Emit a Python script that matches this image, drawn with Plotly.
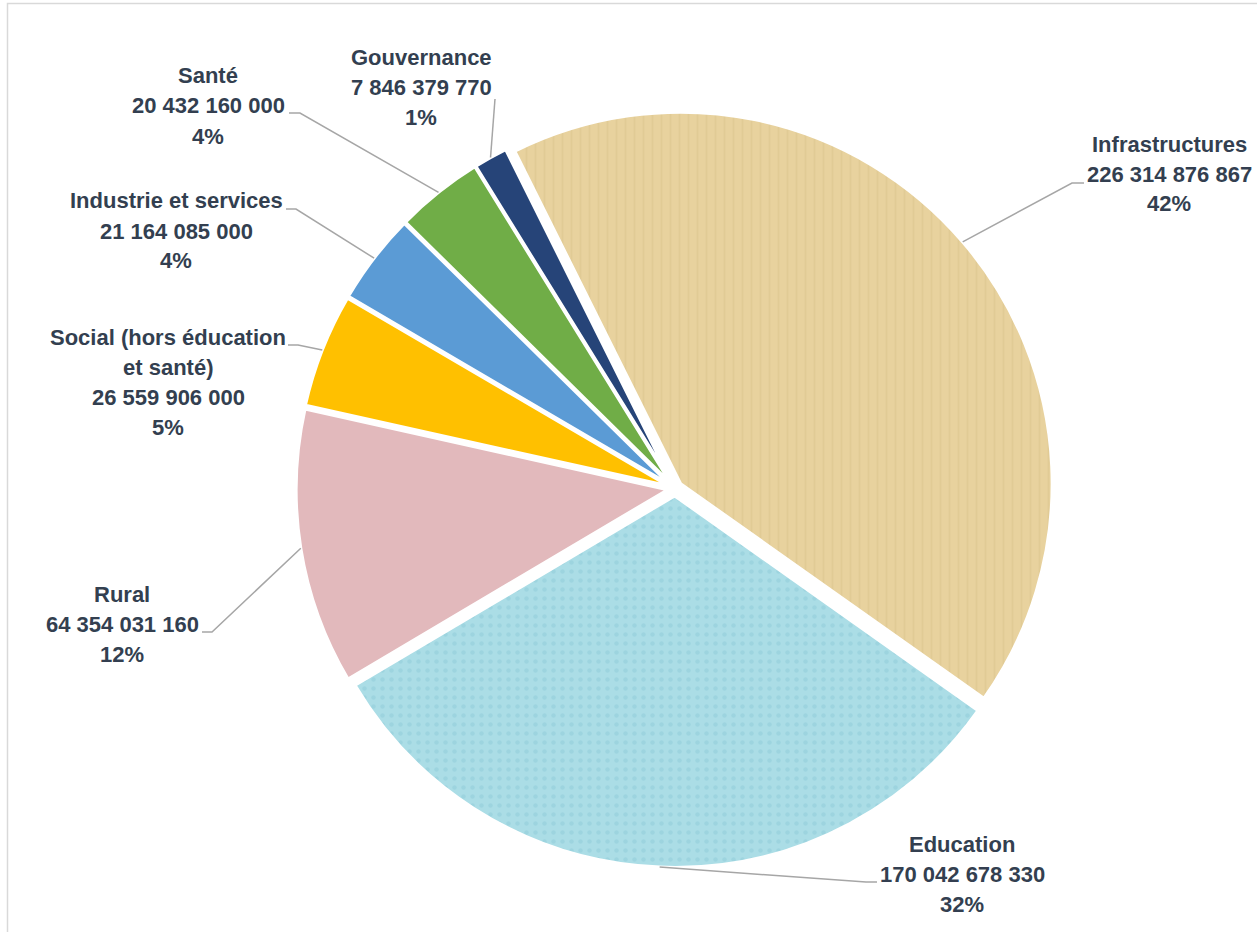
import math
import plotly.graph_objects as go

# ---------------- data ----------------
categories = ["Infrastructures", "Education", "Rural",
              "Social (hors éducation\net santé)", "Industrie et services",
              "Santé", "Gouvernance"]
values = [226314876867, 170042678330, 64354031160, 26559906000,
          21164085000, 20432160000, 7846379770]

# ---------------- style ----------------
colors = ["#E8D29E", "#ABDDE6", "#E2B9BC", "#FFC000", "#5B9BD5", "#70AD47", "#264478"]
pattern_shapes = ["|", ".", "", "", "", "", ""]
pattern_fg = ["#C9AE76", "#6FB8C8", "#E2B9BC", "#FFC000", "#5B9BD5", "#70AD47", "#264478"]
TEXT_COLOR = "#333F50"
FONT = "Liberation Sans, Arial, sans-serif"
FONT_SIZE = 22
LINE_STEP = 30          # px between text lines
W, H = 1257, 932
CX, CY = 675.0, 488.5   # pie centre (px)
R = 371.5               # pie radius (px)
PULL = 0.02
ROTATION = -26.5
BORDER_W = 3

# label block centre and leader end points (px), in slice order
label_layout = [
    dict(text=(1169, 174), leader=[(1072, 183), (1084, 183)]),
    dict(text=(962, 874), leader=[(866, 882), (877, 882)]),
    dict(text=(122, 624), leader=[(212, 632), (202, 632)]),
    dict(text=(168, 382.5), leader=[(298, 345), (288, 345)]),
    dict(text=(176, 231), leader=[(296, 209), (286, 209)]),
    dict(text=(208, 106), leader=[(300, 113), (289, 113)]),
    dict(text=(421, 87.5), leader=[(495, 99)]),
]


def px2paper(x, y):
    return x / W, 1 - y / H


total = sum(values)
box = 2 * R * (1 + PULL)
dom_x = [(CX - box / 2) / W, (CX + box / 2) / W]
dom_y = [(H - CY - box / 2) / H, (H - CY + box / 2) / H]

fig = go.Figure(go.Pie(
    labels=[c.replace("\n", " ") for c in categories],
    values=values,
    sort=False,
    direction="clockwise",
    rotation=ROTATION,
    pull=[PULL] * len(values),
    marker=dict(colors=colors, line=dict(color="white", width=BORDER_W),
                pattern=dict(shape=pattern_shapes, fgcolor=pattern_fg,
                             fgopacity=0.22, size=9, solidity=0.2,
                             fillmode="overlay")),
    textinfo="none",
    hoverinfo="label+value+percent",
    domain=dict(x=dom_x, y=dom_y),
    showlegend=False,
))

annotations = []
shapes = []
cum = 0.0
for i, (cat, v) in enumerate(zip(categories, values)):
    frac = v / total
    mid = math.radians(ROTATION + 360 * (cum + frac / 2))
    cum += frac
    dx, dy = math.sin(mid), -math.cos(mid)
    ax = CX + (PULL * R + R) * dx
    ay = CY + (PULL * R + R) * dy

    lay = label_layout[i]
    pts = [(ax, ay)] + lay["leader"]
    path = "M " + " L ".join(
        "{:.5f},{:.5f}".format(*px2paper(px, py)) for px, py in pts)
    shapes.append(dict(type="path", path=path, xref="paper", yref="paper",
                       line=dict(color="#A6A6A6", width=1.5)))

    lines = cat.split("\n") + [f"{v:,}".replace(",", " "),
                               f"{round(frac * 100)}%"]
    tx, ty = lay["text"]
    n = len(lines)
    for k, ln in enumerate(lines):
        yy = ty + (k - (n - 1) / 2) * LINE_STEP
        px_, py_ = px2paper(tx, yy)
        annotations.append(dict(
            x=px_, y=py_, xref="paper", yref="paper", text=f"<b>{ln}</b>",
            showarrow=False, xanchor="center", yanchor="middle",
            font=dict(family=FONT, size=FONT_SIZE, color=TEXT_COLOR)))

# chart frame
shapes.append(dict(type="rect", xref="paper", yref="paper",
                   x0=7.5 / W, x1=1.02, y0=-0.02, y1=1 - 3.5 / H,
                   line=dict(color="#D9D9D9", width=1.5), layer="below"))

fig.update_layout(
    width=W, height=H,
    margin=dict(l=0, r=0, t=0, b=0),
    paper_bgcolor="white", plot_bgcolor="white",
    annotations=annotations, shapes=shapes,
)

fig.write_html("out.html", config={"displayModeBar": False},
               post_script="document.body.style.margin='0';document.body.style.overflow='hidden';")
